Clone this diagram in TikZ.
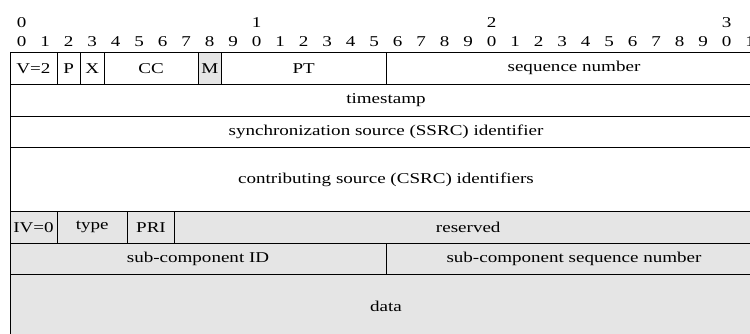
\documentclass[tikz,border=0pt]{standalone}
\usepackage{fontspec}
\setmainfont[FakeStretch=1.27]{Liberation Serif}
\definecolor{shade}{HTML}{E5E5E5}
\tikzset{
  cell/.style={draw=black, line width=0.9pt, inner sep=0pt, outer sep=0pt, anchor=north west, font=\fontsize{15}{18}\selectfont},
  grey/.style={fill=shade},
  bitnum/.style={inner sep=0pt, anchor=base, font=\fontsize{15}{18}\selectfont}
}
\begin{document}
\begin{tikzpicture}[x=1pt, y=-1pt]
\clip (0,0) rectangle (750,333);
\fill[white] (0,0) rectangle (750,333);
% bit numbers
\foreach \k in {0,...,31}{
  \pgfmathtruncatemacro{\d}{mod(\k,10)}
  \node[bitnum] (bit\k) at ({21.75+23.5*\k},46) {\d};
}
\foreach \t in {0,1,2,3}{
  \node[bitnum] (dec\t) at ({21.75+235*\t},27) {\t};
}
% row 1
\node[cell, minimum width=47pt, minimum height=31.75pt] (v) at (10,52.5) {V=2};
\node[cell, minimum width=23.5pt, minimum height=31.75pt] (p) at (57,52.5) {P};
\node[cell, minimum width=23.5pt, minimum height=31.75pt] (x) at (80.5,52.5) {X};
\node[cell, minimum width=94pt, minimum height=31.75pt] (cc) at (104,52.5) {CC};
\node[cell, grey, minimum width=23.5pt, minimum height=31.75pt] (m) at (198,52.5) {M};
\node[cell, minimum width=164.5pt, minimum height=31.75pt] (pt) at (221.5,52.5) {PT};
\node[cell, minimum width=376pt, minimum height=31.75pt] (seq) at (386,52.5) {sequence number};
% rows 2-4
\node[cell, minimum width=752pt, minimum height=31.75pt] (ts) at (10,84.25) {timestamp};
\node[cell, minimum width=752pt, minimum height=31.75pt] (ssrc) at (10,116) {synchronization source (SSRC) identifier};
\node[cell, minimum width=752pt, minimum height=63.5pt] (csrc) at (10,147.75) {contributing source (CSRC) identifiers};
% grey rows
\node[cell, grey, minimum width=47pt, minimum height=31.75pt] (iv) at (10,211.25) {IV=0};
\node[cell, grey, minimum width=70.5pt, minimum height=31.75pt] (type) at (57,211.25) {type};
\node[cell, grey, minimum width=47pt, minimum height=31.75pt] (pri) at (127.5,211.25) {PRI};
\node[cell, grey, minimum width=587.5pt, minimum height=31.75pt] (res) at (174.5,211.25) {reserved};
\node[cell, grey, minimum width=376pt, minimum height=31.75pt] (subid) at (10,243) {sub-component ID};
\node[cell, grey, minimum width=376pt, minimum height=31.75pt] (subseq) at (386,243) {sub-component sequence number};
\node[cell, grey, minimum width=752pt, minimum height=63.25pt] (data) at (10,274.75) {data};
\end{tikzpicture}
\end{document}
